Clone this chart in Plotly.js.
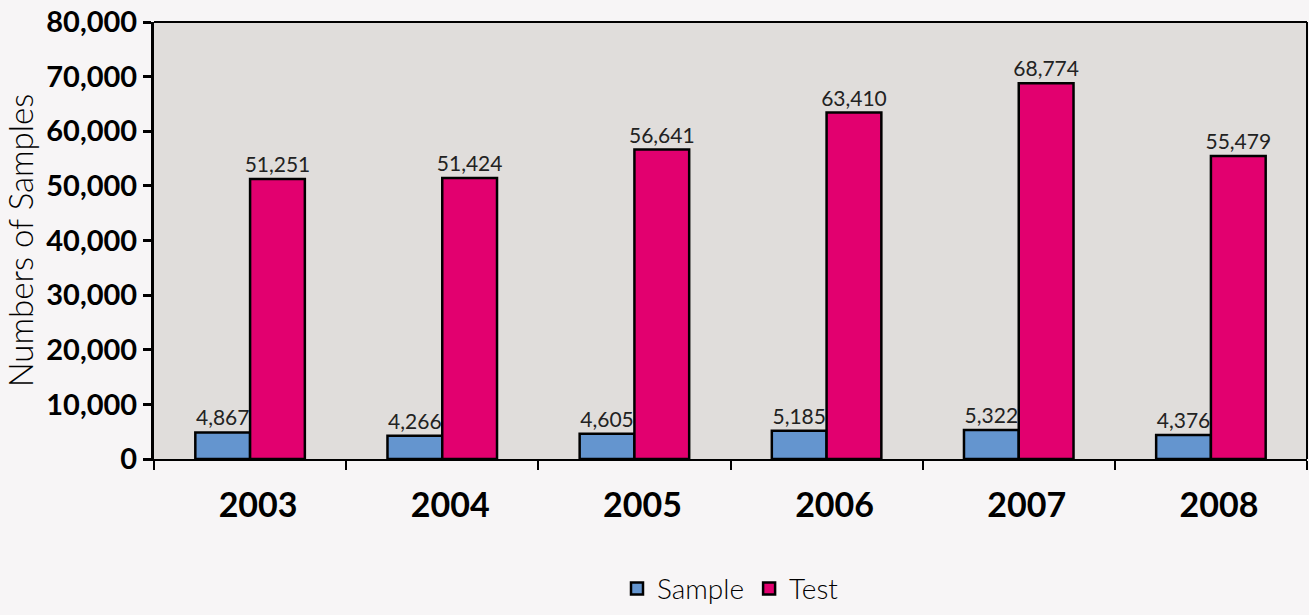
<!DOCTYPE html>
<html>
<head>
<meta charset="utf-8">
<script src="https://cdn.plot.ly/plotly-3.0.1.min.js"></script>
<style>html,body{margin:0;padding:0;background:#f7f5f6;}#chart{width:1309px;height:615px;}</style>
</head>
<body>
<div id="chart"></div>
<script>
const years = ["2003", "2004", "2005", "2006", "2007", "2008"];
const sampleValues = [4867, 4266, 4605, 5185, 5322, 4376];
const testValues = [51251, 51424, 56641, 63410, 68774, 55479];
const yTickVals = [0, 10000, 20000, 30000, 40000, 50000, 60000, 70000, 80000];
const yTickText = ["0", "10,000", "20,000", "30,000", "40,000", "50,000", "60,000", "70,000", "80,000"];

const FONT = "Lato, 'Open Sans', sans-serif";
const fmt = v => v.toLocaleString('en-US');

const traces = [
  {
    type: 'bar', name: 'Sample', x: years, y: sampleValues,
    marker: {color: '#6495cf', line: {color: '#000', width: 2.5}},
    text: sampleValues.map(fmt), textposition: 'outside', cliponaxis: false, constraintext: 'none',
    textfont: {family: FONT, size: 21, color: '#222', weight: 400}
  },
  {
    type: 'bar', name: 'Test', x: years, y: testValues,
    marker: {color: '#e2006f', line: {color: '#000', width: 2.5}},
    text: testValues.map(fmt), textposition: 'outside', cliponaxis: false, constraintext: 'none',
    textfont: {family: FONT, size: 21, color: '#222', weight: 400}
  }
];

const layout = {
  width: 1309, height: 615,
  paper_bgcolor: '#f7f5f6', plot_bgcolor: '#e0dddb',
  margin: {l: 154, r: 2, t: 22, b: 155},
  barmode: 'group', bargap: 0.43, bargroupgap: 0,
  font: {family: FONT, color: '#000'},
  showlegend: true,
  legend: {orientation: 'h', x: 0.5, xanchor: 'center', y: -0.351, yanchor: 'bottom',
           font: {family: FONT, size: 28, color: '#000', weight: 300}, traceorder: 'normal', bgcolor: 'rgba(0,0,0,0)'},
  xaxis: {
    type: 'category', tickson: 'boundaries', ticks: 'outside', ticklen: 9, tickwidth: 2, tickcolor: '#000',
    showline: true, linecolor: '#000', linewidth: 2, showgrid: false, automargin: false,
    tickfont: {family: FONT, size: 34, color: '#000', weight: 'bold'},
    ticklabelstandoff: 15, ticklabelshift: 8
  },
  yaxis: {
    range: [0, 80000], tickvals: yTickVals, ticktext: yTickText, automargin: false,
    ticks: 'outside', ticklen: 8, tickwidth: 3, tickcolor: '#000',
    showline: true, linecolor: '#000', linewidth: 3, showgrid: false, zeroline: false,
    tickfont: {family: FONT, size: 29, color: '#000', weight: 'bold'},
    title: {text: 'Numbers of Samples', font: {family: FONT, size: 33, color: '#000', weight: 300}, standoff: 6}
  },
  shapes: [
    {type: 'line', xref: 'paper', yref: 'paper', x0: 0, x1: 1, y0: 1, y1: 1, line: {color: '#000', width: 2}},
    {type: 'line', xref: 'paper', yref: 'paper', x0: 1, x1: 1, y0: 0, y1: 1, line: {color: '#000', width: 2}}
  ]
};

Plotly.newPlot('chart', traces, layout, {displayModeBar: false});
</script>
</body>
</html>
